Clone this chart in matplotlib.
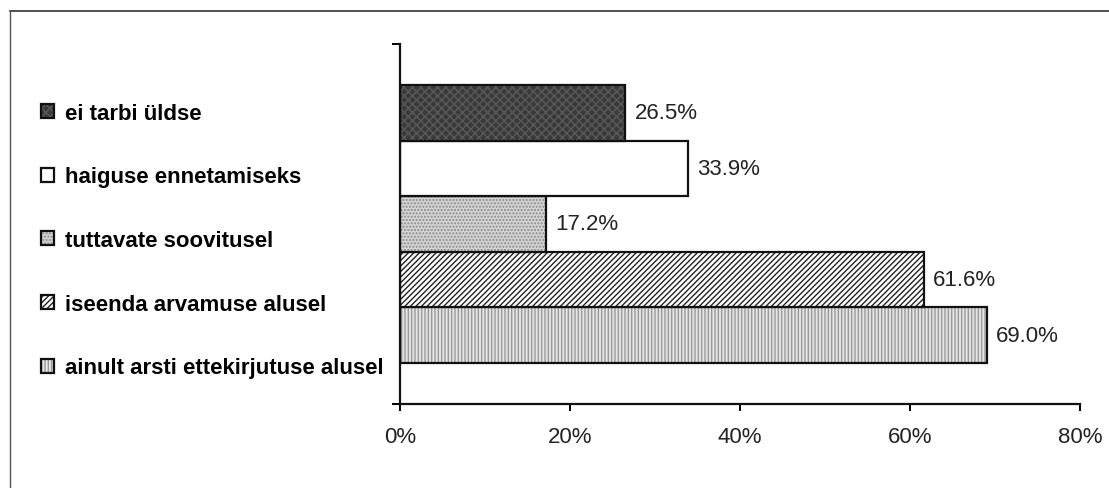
import matplotlib.pyplot as plt
from matplotlib.lines import Line2D

plt.rcParams['font.family'] = ['Liberation Sans', 'DejaVu Sans']
plt.rcParams['hatch.linewidth'] = 1.0

# survey answers, bottom to top as drawn
categories = ['ainult arsti ettekirjutuse alusel', 'iseenda arvamuse alusel',
              'tuttavate soovitusel', 'haiguse ennetamiseks', 'ei tarbi üldse']
values = [69.0, 61.6, 17.2, 33.9, 26.5]
x_ticks = [0, 20, 40, 60, 80]
x_tick_labels = ['0%', '20%', '40%', '60%', '80%']

# fill, hatch, hatch colour per bar
styles = [('#e4e4e4', '|||||', '#9a9a9a'),
          ('white', '//////', '#222222'),
          ('#d4d4d4', '.....', '#8a8a8a'),
          ('white', '', 'white'),
          ('#3a3a3a', 'xxxx', '#5a5a5a')]

fig = plt.figure(figsize=(11.09, 4.89), dpi=100)
ax = fig.add_axes([0.3607, 0.1718, 0.6132, 0.7362])

pos = list(range(len(values)))
handles = []
for p, v, (fc, hatch, hc) in zip(pos, values, styles):
    fill = ax.barh(p, v, height=1.0, color=fc, hatch=hatch, edgecolor=hc, linewidth=0)
    edge = ax.barh(p, v, height=1.0, fill=False, edgecolor='#111111', linewidth=1.6)
    handles.append((fill[0], edge[0]))
    ax.text(v + 1.1, p, f'{v:.1f}%', va='center', ha='left', fontsize=16, color='#222222')

pad = 41 / 55.6
ax.set_ylim(-0.5 - pad, len(values) - 0.5 + pad)
ax.set_xlim(0, 80)
ax.set_xticks(x_ticks)
ax.set_xticklabels(x_tick_labels, fontsize=16, color='#222222')
ax.set_yticks([-0.5 - pad, len(values) - 0.5 + pad])
ax.set_yticklabels([])
ax.tick_params(axis='x', length=5, width=1.4, pad=11)
ax.tick_params(axis='y', length=6, width=1.4)
for side in ['top', 'right']:
    ax.spines[side].set_visible(False)
for side in ['left', 'bottom']:
    ax.spines[side].set_linewidth(1.6)
    ax.spines[side].set_color('#111111')

# legend, top entry first
fig.legend(handles[::-1], categories[::-1], loc='center left',
           bbox_to_anchor=(0.037, 0.506), frameon=False,
           prop={'size': 16, 'weight': 'bold'},
           handlelength=0.6, handleheight=0.6, handletextpad=0.5,
           labelspacing=1.92, borderpad=0, borderaxespad=0)

# page frame lines
fig.add_artist(Line2D([0.009, 1.0], [0.975, 0.975], color='#333333', lw=1.2))
fig.add_artist(Line2D([0.009, 0.009], [0.0, 0.975], color='#555555', lw=1.0))

fig.savefig('out.png', dpi=100)
